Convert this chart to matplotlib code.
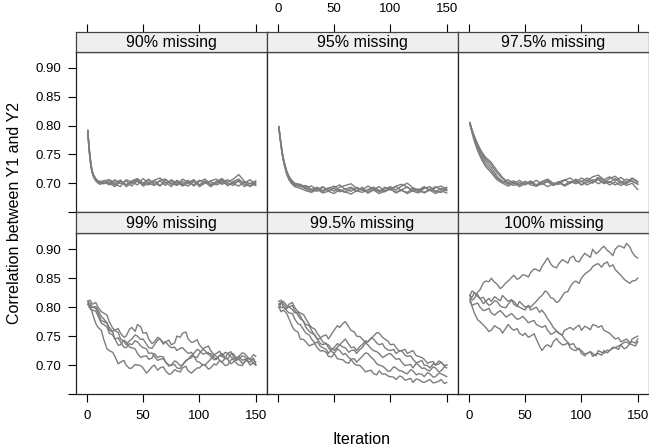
import matplotlib
matplotlib.use("Agg")
import matplotlib.pyplot as plt

plt.rcParams['font.family'] = ['Liberation Sans', 'DejaVu Sans']

it_top = [1, 2, 3, 4, 5, 6, 8, 10, 12, 15] + list(range(20, 151, 5))
it_bot = [1, 3]
for k in range(5, 151, 5):
    it_bot.append(k)
    if k < 150:
        it_bot.append(k + 3)

labels = ["90% missing", "95% missing", "97.5% missing",
          "99% missing", "99.5% missing", "100% missing"]

miss90 = [
    [0.790, 0.760, 0.740, 0.727, 0.718, 0.712, 0.705, 0.702, 0.700, 0.703,
     .697, .706, .699, .704, .695, .705, .700, .707, .697, .704, .696, .706, .700, .697,
     .705, .695, .703, .707, .698, .701, .706, .696, .703, .707, .698, .695, .702],
    [0.791, 0.764, 0.745, 0.730, 0.720, 0.714, 0.707, 0.703, 0.702, 0.700,
     .705, .698, .694, .706, .702, .697, .708, .700, .696, .705, .707, .698, .703, .695,
     .701, .706, .697, .704, .696, .703, .708, .700, .696, .705, .700, .706, .697],
    [0.789, 0.761, 0.741, 0.726, 0.717, 0.711, 0.704, 0.700, 0.698, 0.701,
     .700, .694, .703, .697, .702, .706, .695, .700, .705, .696, .702, .694, .705, .699,
     .695, .703, .697, .702, .694, .700, .704, .696, .701, .703, .694, .700, .696],
    [0.792, 0.765, 0.746, 0.731, 0.721, 0.715, 0.708, 0.704, 0.703, 0.704,
     .706, .701, .705, .697, .704, .708, .700, .697, .705, .709, .700, .704, .697, .707,
     .702, .697, .705, .700, .704, .707, .698, .702, .707, .715, .703, .699, .704],
    [0.790, 0.763, 0.743, 0.729, 0.719, 0.713, 0.706, 0.702, 0.700, 0.699,
     .702, .697, .705, .694, .700, .703, .697, .705, .701, .695, .706, .700, .696, .703,
     .699, .705, .694, .700, .703, .697, .701, .706, .699, .695, .703, .694, .700],
]

miss95 = [
    [0.797, 0.780, 0.765, 0.751, 0.741, 0.732, 0.717, 0.708, 0.702, 0.696,
     .695, .690, .686, .692, .685, .691, .695, .687, .684, .691, .686, .693, .683, .689,
     .694, .686, .691, .684, .689, .693, .686, .683, .691, .694, .686, .684, .690],
    [0.798, 0.782, 0.767, 0.753, 0.743, 0.734, 0.720, 0.711, 0.705, 0.699,
     .698, .693, .695, .688, .694, .687, .692, .697, .689, .686, .693, .688, .695, .690,
     .685, .693, .688, .695, .698, .693, .688, .686, .693, .688, .694, .689, .693],
    [0.796, 0.779, 0.764, 0.750, 0.739, 0.730, 0.715, 0.706, 0.700, 0.694,
     .691, .687, .684, .689, .683, .686, .682, .689, .685, .681, .687, .690, .683, .688,
     .682, .686, .690, .683, .688, .682, .687, .690, .683, .688, .682, .687, .683],
    [0.797, 0.781, 0.766, 0.752, 0.742, 0.733, 0.719, 0.710, 0.704, 0.698,
     .694, .696, .689, .693, .687, .692, .686, .693, .696, .699, .691, .688, .686, .692,
     .685, .690, .694, .688, .695, .700, .692, .688, .694, .687, .692, .695, .689],
    [0.798, 0.783, 0.768, 0.754, 0.744, 0.735, 0.721, 0.712, 0.706, 0.700,
     .697, .692, .689, .686, .693, .687, .691, .685, .690, .693, .687, .684, .689, .693,
     .688, .685, .691, .694, .687, .684, .691, .686, .684, .690, .685, .691, .687],
]

miss975 = [
    [0.804, 0.797, 0.790, 0.784, 0.778, 0.773, 0.763, 0.755, 0.748, 0.738,
     .727, .712, .703, .698, .702, .697, .703, .699, .705, .698, .703, .697, .702, .706,
     .700, .707, .702, .709, .703, .710, .705, .701, .708, .700, .707, .703, .699],
    [0.805, 0.798, 0.791, 0.785, 0.779, 0.774, 0.765, 0.757, 0.750, 0.742,
     .732, .718, .708, .700, .696, .701, .697, .702, .695, .699, .703, .696, .700, .697,
     .703, .699, .704, .697, .702, .706, .699, .703, .697, .702, .696, .700, .689],
    [0.803, 0.795, 0.787, 0.780, 0.773, 0.767, 0.756, 0.747, 0.739, 0.729,
     .718, .706, .700, .695, .700, .694, .699, .702, .695, .700, .694, .699, .702, .695,
     .700, .704, .697, .701, .706, .699, .704, .697, .702, .696, .701, .704, .698],
    [0.804, 0.796, 0.789, 0.782, 0.776, 0.770, 0.760, 0.751, 0.743, 0.733,
     .722, .709, .702, .706, .699, .705, .698, .704, .697, .703, .707, .700, .698, .705,
     .709, .701, .709, .704, .711, .714, .706, .711, .704, .710, .702, .709, .703],
    [0.805, 0.799, 0.793, 0.787, 0.782, 0.777, 0.768, 0.760, 0.753, 0.745,
     .736, .722, .710, .701, .704, .697, .703, .697, .695, .702, .705, .697, .703, .696,
     .701, .705, .697, .705, .700, .708, .701, .708, .712, .703, .699, .708, .702],
]

miss99 = [
    [.81, .80, .80, .798, .79, .777, .775, .772, .765, .758,
     .76, .763, .755, .748, .75, .762, .765, .758, .77, .766,
     .755, .756, .745, .737, .74, .748, .745, .736, .74, .743,
     .735, .738, .75, .748, .755, .757, .745, .739, .74, .744,
     .735, .728, .73, .733, .725, .718, .72, .724, .715, .711,
     .72, .723, .715, .708, .71, .716, .715, .707, .705, .712, .70],
    [.805, .802, .79, .772, .765, .76, .745, .728, .725, .722,
     .715, .702, .705, .708, .70, .694, .695, .701, .70, .699,
     .695, .686, .69, .697, .70, .691, .695, .697, .69, .684,
     .685, .692, .69, .688, .695, .698, .69, .686, .69, .695,
     .695, .701, .70, .693, .695, .702, .70, .708, .705, .699,
     .70, .709, .71, .703, .70, .699, .705, .713, .71, .703, .70],
    [.81, .806, .80, .801, .795, .784, .78, .773, .76, .757,
     .745, .734, .735, .743, .74, .731, .73, .728, .72, .713,
     .715, .716, .71, .712, .72, .713, .715, .714, .705, .698,
     .70, .707, .705, .699, .70, .708, .71, .717, .715, .706,
     .705, .700, .70, .706, .71, .718, .715, .708, .705, .712,
     .71, .719, .72, .711, .71, .703, .705, .711, .71, .718, .715],
    [.805, .797, .795, .793, .785, .772, .77, .766, .755, .752,
     .745, .747, .74, .731, .73, .737, .735, .742, .74, .733,
     .73, .728, .72, .721, .715, .708, .71, .711, .705, .700,
     .70, .701, .695, .694, .70, .707, .71, .713, .72, .727,
     .725, .719, .72, .722, .715, .709, .71, .717, .72, .713,
     .71, .702, .705, .711, .715, .708, .71, .706, .70, .704, .70],
    [.81, .812, .805, .808, .80, .792, .79, .786, .775, .764,
     .76, .756, .745, .741, .735, .742, .745, .752, .75, .744,
     .745, .736, .73, .729, .735, .743, .745, .739, .74, .733,
     .73, .731, .725, .729, .73, .724, .72, .722, .715, .713,
     .72, .727, .725, .718, .72, .713, .71, .716, .715, .722,
     .72, .714, .71, .713, .715, .721, .72, .713, .71, .709, .705],
]

miss995 = [
    [.805, .809, .80, .797, .805, .808, .80, .792, .79, .787,
     .78, .770, .765, .762, .755, .747, .75, .752, .745, .754,
     .76, .768, .765, .772, .775, .766, .76, .757, .75, .749,
     .745, .739, .74, .746, .75, .756, .755, .748, .745, .741,
     .735, .736, .73, .724, .725, .727, .72, .723, .725, .716,
     .715, .713, .71, .703, .705, .706, .70, .702, .705, .699, .70],
    [.80, .792, .795, .789, .78, .766, .76, .757, .745, .744,
     .74, .733, .735, .737, .73, .724, .725, .722, .715, .714,
     .72, .711, .71, .709, .705, .703, .71, .702, .70, .699,
     .695, .688, .69, .691, .685, .683, .69, .684, .685, .681,
     .68, .679, .675, .681, .68, .674, .675, .677, .67, .676,
     .675, .671, .67, .673, .675, .669, .67, .672, .675, .668, .67],
    [.81, .812, .805, .799, .80, .803, .795, .786, .78, .776,
     .765, .758, .755, .752, .745, .737, .735, .738, .73, .723,
     .72, .728, .725, .718, .72, .713, .71, .711, .705, .711,
     .715, .721, .72, .713, .71, .702, .70, .698, .695, .689,
     .69, .697, .695, .690, .69, .686, .685, .692, .69, .683,
     .685, .684, .68, .687, .685, .679, .68, .686, .685, .682, .68],
    [.80, .807, .81, .803, .80, .796, .79, .791, .785, .774,
     .77, .768, .76, .751, .745, .746, .74, .736, .735, .727,
     .73, .737, .735, .731, .73, .722, .725, .726, .72, .727,
     .73, .738, .735, .728, .725, .723, .72, .713, .715, .719,
     .72, .714, .71, .711, .705, .699, .70, .701, .695, .703,
     .70, .694, .695, .691, .69, .697, .695, .688, .69, .697, .695],
    [.805, .799, .80, .794, .79, .789, .78, .771, .77, .761,
     .755, .752, .745, .738, .74, .732, .73, .727, .72, .728,
     .725, .731, .735, .741, .745, .736, .73, .731, .725, .732,
     .735, .742, .74, .747, .745, .738, .735, .737, .73, .726,
     .725, .727, .72, .724, .725, .717, .715, .716, .71, .704,
     .705, .708, .70, .699, .695, .702, .70, .707, .705, .698, .70],
]

miss100 = [
    [.82, .812, .815, .826, .83, .842, .845, .844, .85, .843,
     .84, .832, .835, .842, .845, .851, .855, .848, .85, .856,
     .855, .852, .86, .866, .865, .862, .87, .879, .885, .874,
     .87, .868, .875, .882, .88, .876, .885, .888, .88, .878,
     .885, .893, .89, .886, .90, .892, .895, .902, .905, .898,
     .895, .889, .90, .906, .905, .902, .91, .904, .895, .887, .885],
    [.82, .828, .825, .818, .815, .817, .81, .803, .805, .811,
     .81, .802, .80, .799, .805, .812, .81, .803, .80, .797,
     .795, .803, .80, .806, .81, .817, .82, .828, .825, .816,
     .815, .808, .81, .819, .825, .827, .835, .843, .845, .841,
     .85, .857, .86, .864, .87, .874, .875, .869, .875, .878,
     .87, .873, .865, .859, .855, .848, .845, .841, .845, .846, .85],
    [.815, .801, .79, .778, .775, .769, .765, .758, .76, .768,
     .765, .762, .755, .764, .77, .763, .76, .763, .755, .751,
     .755, .748, .75, .754, .745, .732, .725, .733, .735, .731,
     .74, .746, .74, .735, .735, .738, .73, .726, .725, .729,
     .72, .716, .72, .723, .715, .719, .72, .717, .725, .721,
     .725, .731, .73, .727, .735, .739, .74, .736, .745, .748, .75],
    [.81, .803, .805, .807, .80, .794, .795, .798, .79, .786,
     .79, .794, .79, .783, .785, .789, .785, .779, .78, .784,
     .78, .773, .775, .777, .77, .767, .765, .768, .76, .753,
     .755, .759, .755, .752, .76, .763, .765, .761, .765, .769,
     .76, .767, .765, .761, .77, .768, .765, .768, .76, .757,
     .755, .749, .745, .747, .74, .743, .745, .739, .74, .738, .745],
    [.82, .817, .825, .821, .815, .806, .81, .815, .81, .818,
     .815, .811, .82, .814, .81, .813, .805, .801, .81, .804,
     .80, .802, .795, .798, .80, .791, .795, .787, .78, .772,
     .765, .759, .755, .751, .745, .739, .735, .737, .73, .727,
     .725, .719, .72, .723, .72, .716, .725, .722, .72, .726,
     .725, .729, .73, .733, .735, .728, .73, .737, .735, .733, .74],
]

panels = [(it_top, miss90), (it_top, miss95), (it_top, miss975),
          (it_bot, miss99), (it_bot, miss995), (it_bot, miss100)]

W, H = 649, 447
fig = plt.figure(figsize=(W / 100, H / 100), dpi=100)


def box(x0, y0, x1, y1):
    return [x0 / W, 1 - y1 / H, (x1 - x0) / W, (y1 - y0) / H]


cols = [76, 267, 458, 649]
rows = [(32.3, 51.7, 212), (212, 233, 394)]  # strip top, panel top, panel bottom
xticks = [0, 50, 100, 150]
yticks = [0.65, 0.70, 0.75, 0.80, 0.85, 0.90]
tick_kw = dict(direction='out', length=5.8, width=0.8, labelsize=9.5, pad=6)

for i, (its, series) in enumerate(panels):
    r, c = divmod(i, 3)
    ax = fig.add_axes(box(cols[c], rows[r][1], cols[c + 1], rows[r][2]))
    for v in series:
        n = min(len(its), len(v))
        ax.plot(its[:n], v[:n], color='#7d7d7d', lw=1.0)
    ax.set_xlim(-9.5, 160)
    ax.set_ylim(0.65, 0.928)
    for sp in ax.spines.values():
        sp.set_color('#222222')
        sp.set_linewidth(0.9)
    ax.tick_params(**tick_kw)

    if r == 1:
        ax.set_xticks(xticks)
        if c == 1:
            ax.set_xticklabels([])
    else:
        ax.set_xticks([])
    if c == 0:
        ax.set_yticks(yticks)
        ax.set_yticklabels([''] + ['%.2f' % t for t in yticks[1:]])
        ax.tick_params(axis='y', pad=5)
    else:
        ax.set_yticks([])

    st = fig.add_axes(box(cols[c], rows[r][0], cols[c + 1], rows[r][1]))
    st.set_facecolor('#efefef')
    st.set_xlim(-9.5, 160)
    st.set_yticks([])
    for sp in st.spines.values():
        sp.set_color('#444444')
        sp.set_linewidth(0.9)
    st.text(0.5, 0.47, labels[i], transform=st.transAxes, ha='center', va='center',
            fontsize=11.5)
    st.tick_params(**tick_kw)
    if r == 0:
        st.xaxis.set_ticks_position('top')
        st.set_xticks(xticks)
        st.tick_params(axis='x', pad=7)
        if c != 1:
            st.set_xticklabels([])
    else:
        st.set_xticks([])

fig.text(362 / W, 1 - 440 / H, 'Iteration', ha='center', va='center', fontsize=11.5)
fig.text(15 / W, 1 - 213 / H, 'Correlation between Y1 and Y2', ha='center', va='center',
         rotation=90, fontsize=11.5)

fig.savefig('out.png', dpi=100)
